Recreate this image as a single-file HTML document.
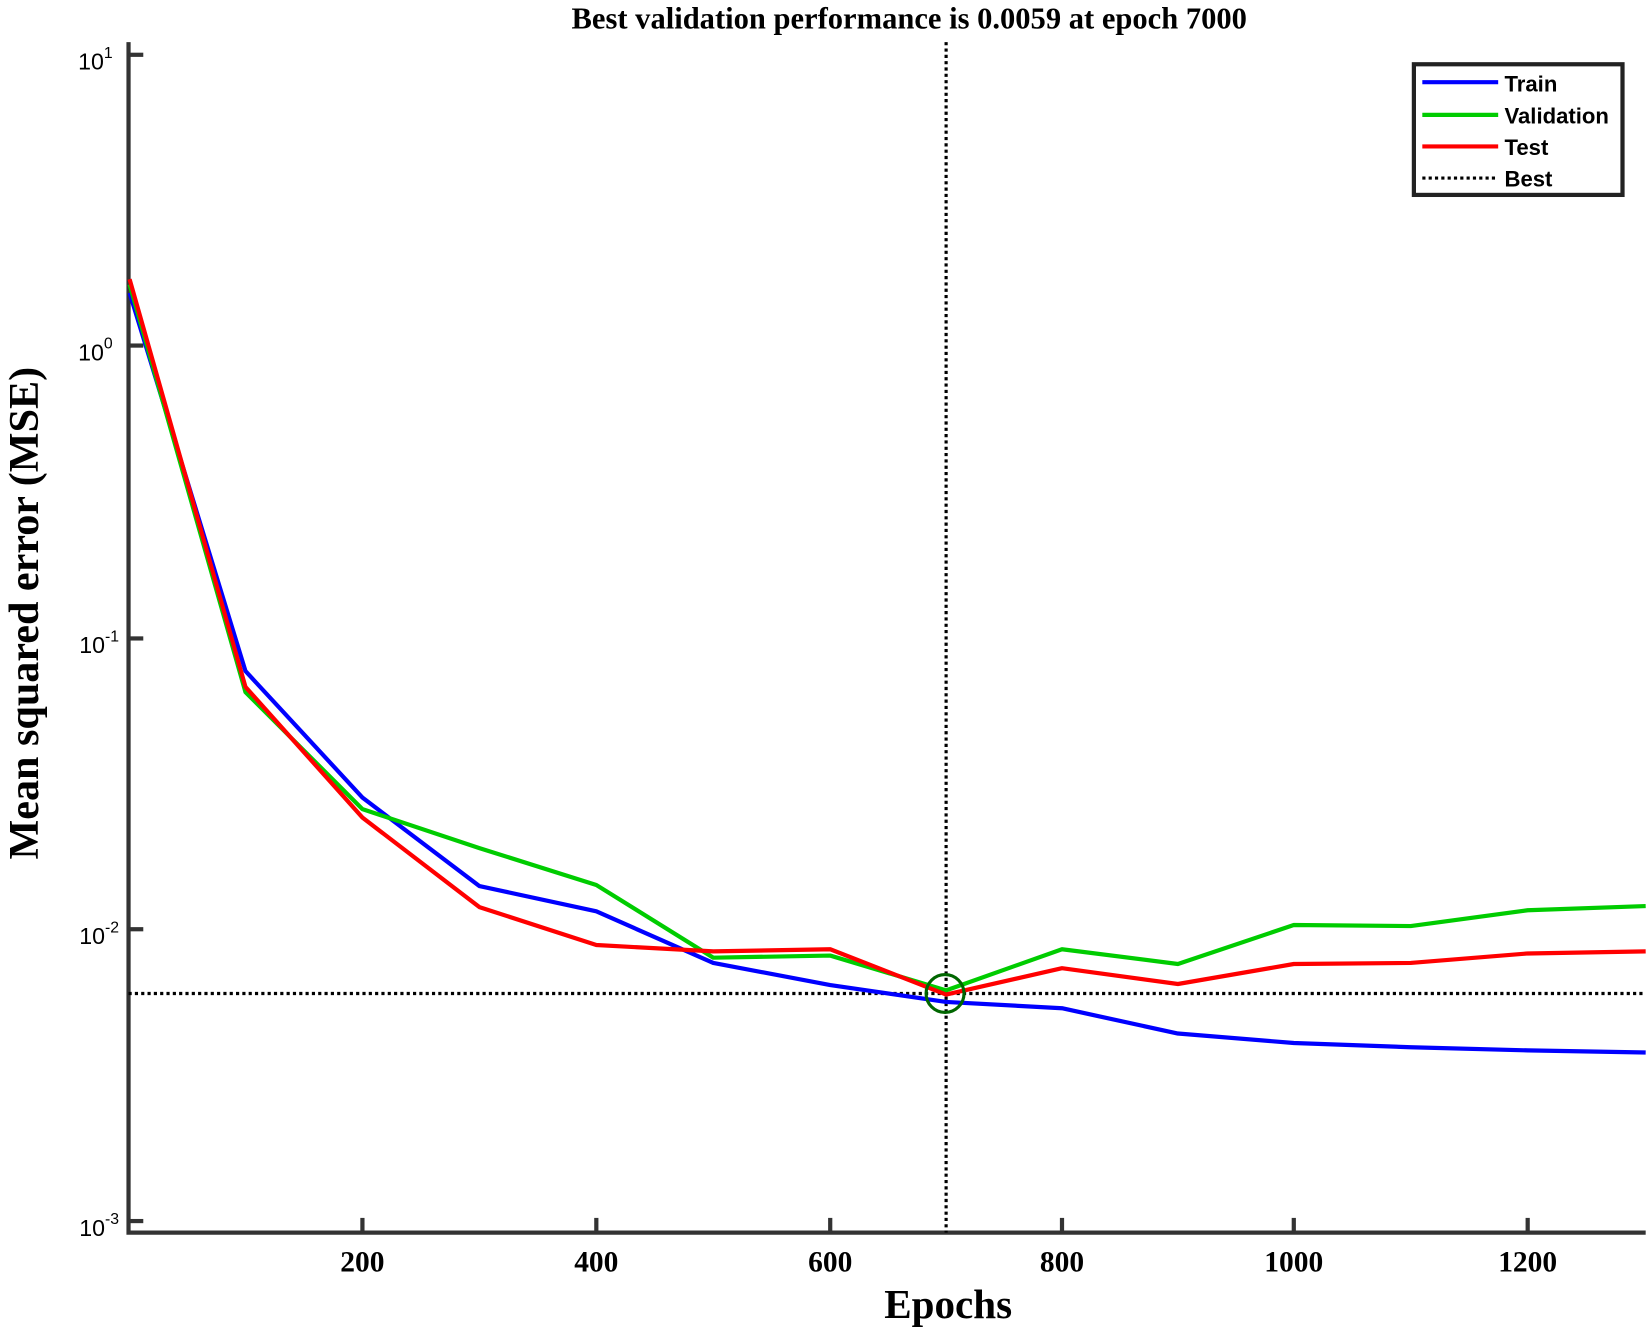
<!DOCTYPE html>
<html><head><meta charset="utf-8"><style>
html,body{margin:0;padding:0;background:#fff;}
svg{display:block;}
</style></head><body>
<svg width="1652" height="1332" viewBox="0 0 1568 1264.3" preserveAspectRatio="none" xmlns="http://www.w3.org/2000/svg">
<rect width="1568" height="1265" fill="#fff"/>
<text x="863" y="27" text-anchor="middle" font-family="Liberation Serif, serif" font-weight="bold" font-size="29">Best validation performance is 0.0059 at epoch 7000</text>
<g id="minor" stroke="#333" stroke-width="3"></g>
<path d="M122 40 V1170 H1562" fill="none" stroke="#333" stroke-width="4"/>
<g stroke="#333" stroke-width="4">
<line x1="122" y1="52" x2="136" y2="52"/><line x1="122" y1="328" x2="136" y2="328"/><line x1="122" y1="606" x2="136" y2="606"/><line x1="122" y1="882" x2="136" y2="882"/><line x1="122" y1="1159" x2="136" y2="1159"/>
<line x1="344" y1="1170" x2="344" y2="1156"/><line x1="566" y1="1170" x2="566" y2="1156"/><line x1="788" y1="1170" x2="788" y2="1156"/><line x1="1008" y1="1170" x2="1008" y2="1156"/><line x1="1228" y1="1170" x2="1228" y2="1156"/><line x1="1450" y1="1170" x2="1450" y2="1156"/>
</g>
<g font-family="Liberation Sans, sans-serif" font-size="22" text-anchor="end">
<text x="107" y="66">10<tspan font-size="15" dy="-11">1</tspan></text>
<text x="107" y="342">10<tspan font-size="15" dy="-11">0</tspan></text>
<text x="113" y="620">10<tspan font-size="15" dy="-11">-1</tspan></text>
<text x="113" y="896">10<tspan font-size="15" dy="-11">-2</tspan></text>
<text x="113" y="1173">10<tspan font-size="15" dy="-11">-3</tspan></text>
</g>
<g font-family="Liberation Serif, serif" font-weight="bold" font-size="28" text-anchor="middle">
<text x="344" y="1207">200</text><text x="566" y="1207">400</text><text x="788" y="1207">600</text><text x="1008" y="1207">800</text><text x="1228" y="1207">1000</text><text x="1450" y="1207">1200</text>
</g>
<text x="900" y="1251" text-anchor="middle" font-family="Liberation Serif, serif" font-weight="bold" font-size="39">Epochs</text>
<text transform="translate(36,582) rotate(-90)" text-anchor="middle" font-family="Liberation Serif, serif" font-weight="bold" font-size="40">Mean squared error (MSE)</text>
<line x1="122" y1="943" x2="1562" y2="943" stroke="#000" stroke-width="3" stroke-dasharray="3,3"/>
<line x1="898" y1="40" x2="898" y2="1170" stroke="#000" stroke-width="3" stroke-dasharray="3,3"/>
<g fill="none" stroke-width="4" stroke-linejoin="round">
<polyline stroke="#0000ff" points="123,278 233,637 344,757 455,841 566,865 677,914 788,935 898,951 1008,957 1118,981 1228,990 1339,994 1450,997 1562,999"/>
<polyline stroke="#00cc00" points="123,270 233,657 344,768 455,805 566,840 677,909 788,907 898,940 1008,901 1118,915 1228,878 1339,879 1450,864 1562,860"/>
<polyline stroke="#ff0000" points="123,265 233,652 344,776 455,861 566,897 677,903 788,901 898,944 1008,919 1118,934 1228,915 1339,914 1450,905 1562,903"/>
</g>
<circle cx="897" cy="943" r="18" fill="none" stroke="#006600" stroke-width="3"/>
<rect x="1342" y="61" width="198" height="124" fill="#fff" stroke="#222" stroke-width="4"/>
<g stroke-width="4">
<line x1="1350" y1="78" x2="1422" y2="78" stroke="#0000ff"/>
<line x1="1350" y1="109" x2="1422" y2="109" stroke="#00cc00"/>
<line x1="1350" y1="139" x2="1422" y2="139" stroke="#ff0000"/>
<line x1="1350" y1="169" x2="1422" y2="169" stroke="#000" stroke-width="3" stroke-dasharray="3,3"/>
</g>
<g font-family="Liberation Sans, sans-serif" font-size="21" font-weight="bold">
<text x="1428" y="87">Train</text><text x="1428" y="117">Validation</text><text x="1428" y="147">Test</text><text x="1428" y="177">Best</text>
</g>
<script>
var g=document.getElementById('minor'),s='';
var tops=[52,328,606,882];
for(var d=0;d<4;d++){var base=tops[d]+277;for(var k=2;k<10;k++){var y=base-277*Math.log10(k);s+='<line x1="122" y1="'+y+'" x2="129" y2="'+y+'"/>';}}
g.innerHTML=s;
</script>
</svg>
</body></html>
